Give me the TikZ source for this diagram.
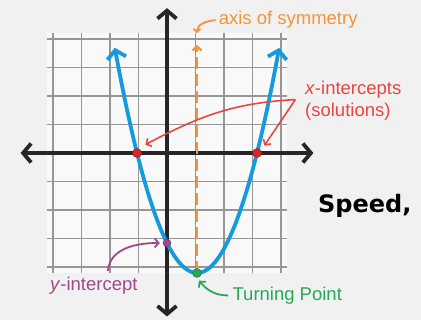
\documentclass[tikz,border=0pt]{standalone}
\usepackage{fontspec}
\setmainfont{Liberation Sans}
\newfontfamily\speedfont{DejaVu Sans}
\usetikzlibrary{arrows.meta}

\begin{document}
\begin{tikzpicture}[x=30pt, y=30pt, >={Straight Barb[length=8pt, width=19pt]},
		font=\fontsize{18.5}{22}\selectfont,
		pt/.style={circle, inner sep=0pt, minimum size=9pt, draw=#1!70!black, fill=#1}]
			\definecolor{bggray}{RGB}{241,241,241}
			\definecolor{gridgray}{RGB}{150,150,150}
			\definecolor{skyblue}{RGB}{22,154,222}
			\definecolor{symorange}{RGB}{243,148,56}
			\definecolor{intred}{RGB}{232,70,64}
			\definecolor{dotred}{RGB}{214,40,40}
			\definecolor{ypurple}{RGB}{158,74,138}
			\definecolor{tpgreen}{RGB}{38,168,88}
			\fill[bggray] (-5.567,-5.567) rectangle (8.467,5.1);
			\useasboundingbox (-5.567,-5.567) rectangle (8.467,5.1);
			% grid
			\fill[white!60!bggray] (-4,-4) rectangle (4,4);
			\draw[gridgray, line width=1.6pt] (-4,-4) grid (4,4);
			% axes
			\draw[<->, line width=3.8pt, black!85] (-4.88,0) -- (4.88,0);
			\draw[<->, line width=3.8pt, black!85] (0,-5.45) -- (0,4.83);
			% axis of symmetry
			\draw[->, >={Straight Barb[length=4pt, width=9pt]}, symorange, line width=2.4pt, dash pattern=on 12pt off 5pt]
				(1,-4) -- (1,3.6);
			% parabola
			\draw[<->, skyblue, line width=3.8pt, domain=-1.74:3.74, samples=100] plot (\x, {\x*\x-2*\x-3});
			% points
			\node[pt=dotred] (xl) at (-1,0) {};
			\node[pt=dotred] (xr) at (3,0) {};
			\node[pt=ypurple, minimum size=8pt] (yi) at (0,-3) {};
			\node[pt=tpgreen] (vx) at (1,-4) {};
			\coordinate (symtop) at (1,4);
			% labels
			\node[anchor=west, symorange, inner sep=0pt] (aos) at (1.72,4.43) {axis of symmetry};
			\draw[->, >={Straight Barb[length=3pt, width=7pt]}, symorange, line width=1.8pt]
				([xshift=-3pt]aos.west) to[out=185, in=90] (symtop);
			\node[anchor=west, intred, align=left, inner sep=0pt] (xint) at (4.6,1.74) {\textit{x}-intercepts\\(solutions)};
			\coordinate (apex) at (4.28,1.78);
			\draw[->, >={Straight Barb[length=4pt, width=9pt]}, intred, line width=1.6pt]
				(apex) to[out=183, in=28] ([shift={(5pt,5pt)}]xl.north east);
			\draw[->, >={Straight Barb[length=4pt, width=9pt]}, intred, line width=1.6pt]
				(apex) -- ([shift={(4pt,4pt)}]xr.north east);
			\node[anchor=west, ypurple, inner sep=0pt] (yint) at (-3.9,-4.42) {\textit{y}-intercept};
			\draw[->, >={Straight Barb[length=4pt, width=9pt]}, ypurple, line width=1.8pt]
				(-1.97,-3.93) to[out=85, in=180] ([xshift=-3pt]yi.west);
			\node[anchor=west, tpgreen, inner sep=0pt] (tp) at (2.18,-4.75) {Turning Point};
			\draw[->, >={Straight Barb[length=4pt, width=9pt]}, tpgreen, line width=1.8pt]
				([xshift=-4pt]tp.west) to[out=180, in=-50] ([shift={(2pt,-3pt)}]vx.south);
			\node[anchor=base west, inner sep=0pt, font=\speedfont\bfseries\fontsize{24}{26}\selectfont] (speed) at (5.03,-1.97) {Speed,};
		\end{tikzpicture}
\end{document}
